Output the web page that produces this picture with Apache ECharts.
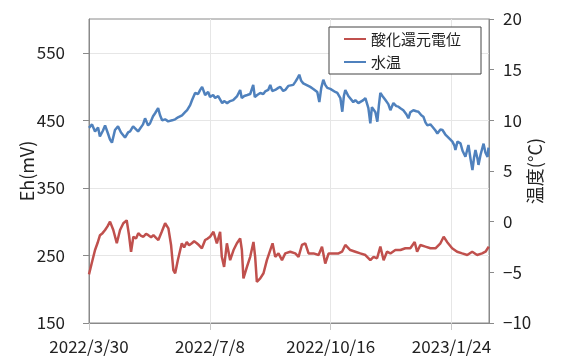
<!DOCTYPE html>
<html><head><meta charset="utf-8">
<script src="https://cdn.jsdelivr.net/npm/echarts@6/dist/echarts.min.js"></script>
<style>html,body{margin:0;padding:0;background:#fff}#c{width:563px;height:359px}</style>
</head><body><div id="c"></div>
<script>
// x = days since 2022/3/30
const xTickDays = [0, 100, 200, 300];
const xTickLabels = ['2022/3/30', '2022/7/8', '2022/10/16', '2023/1/24'];
const ehTicks = [150, 250, 350, 450, 550];
const tempTicks = [-10, -5, 0, 5, 10, 15, 20];
const seriesNames = ['酸化還元電位', '水温'];

// 酸化還元電位 (mV): [day, value]
const ehPoints = [
 [0,222],[2.2,238],[5,258],[7,268],[9.1,280],[11.2,283],[13.3,287.6],[15.3,293],[17.4,300],[20.1,287.6],
 [23,268],[25.7,287.6],[28.4,297.6],[31.2,302],[33.1,280],[34.8,255.5],[36.7,277.7],[38.9,275],[40.8,282.8],[43.1,279],
 [45,277.7],[47.2,282],[49.1,280],[51.4,277],[53.3,280],[55.5,276],[57.4,272.8],[60.2,285],[63,297.6],[65.7,290],
 [67.9,265.5],[69.8,228.4],[71.3,223.6],[73.5,243],[76.8,268],[78.7,262],[80.9,270],[82.8,265],[85.1,268],[87,271],
 [89.2,268],[91.1,265],[93.4,260.6],[96.1,272.8],[98.2,275],[100.2,277.7],[103,285],[105.8,268],[108.5,285],[109.9,248],
 [111.8,233],[114.1,268],[116.8,243],[119.6,258],[122.4,268],[125.1,275],[126.5,258],[127.8,216],[130.7,233],[133.4,248],
 [136.1,270],[137.5,248],[138.9,211],[141.7,216],[144.4,223.6],[147.2,243],[150,258],[151.9,268],[154.1,248],[156.8,253],
 [159.7,243],[162.4,253],[166.5,255.5],[170.7,253],[173.4,248],[176.2,265.5],[179,268],[181.7,253],[185.8,253],[190,250.6],
 [192.8,263],[195.5,238],[198.3,253],[202.4,253],[206.5,253],[209.4,255.5],[212.1,265.5],[216.2,258],[220.4,255.5],[224.5,253],
 [228.7,250.6],[232.8,243],[235.5,248],[238.4,245.8],[241.1,263],[243.8,243],[246.6,255.5],[249.4,253],[253.5,258],[257.7,258],
 [261.8,260.6],[265.9,260.6],[269.5,270],[271.5,255.5],[274.2,265.5],[278.4,263],[282.5,260.6],[286.7,260.6],[290.8,268],[293.5,277.7],
 [296.3,270],[300.5,260.6],[304.6,255.5],[308.8,253],[313,250.6],[317.1,255.5],[321.2,250.6],[325.3,253],[328.1,255.5],[330.8,263]
];

// 水温 (°C): [day, value]
const tempPoints = [
 [0,9.25],[2.5,9.6],[5,8.9],[7.5,9.3],[9,8.4],[11.6,9.0],[13.3,9.5],[15.7,8.7],[17.4,8.1],[19,7.8],
 [21.5,9.05],[24,9.4],[26.5,8.8],[29.8,8.3],[32.3,8.8],[34,8.9],[36.5,9.4],[38,9.5],[40.6,8.9],[42.3,9.2],
 [44.7,9.6],[46.4,10.2],[48.9,9.5],[50.5,9.7],[53,10.4],[54.7,10.7],[57.2,11.2],[58.8,10.5],[60.5,10.0],[63,10.1],
 [65.5,9.9],[68.8,10.0],[71.3,10.1],[73.7,10.3],[77,10.5],[79.5,10.8],[81.2,11.0],[83.7,11.5],[85.3,12.0],[87.8,12.7],
 [90.3,12.6],[92,13.0],[93.6,13.3],[96.1,12.5],[98.6,12.8],[100.2,12.3],[102.7,12.5],[104.4,12.2],[106.9,12.4],[110.2,11.7],
 [111.8,11.9],[114.3,11.7],[116.8,11.9],[119.3,12.0],[122.6,12.4],[125.1,13.0],[126.4,12.2],[128.5,12.4],[131,12.5],[133.4,12.6],
 [135.9,13.5],[137.2,12.3],[139.2,12.5],[141.7,12.7],[144.2,12.6],[145.8,12.85],[148.3,13.0],[150,13.5],[151.6,12.9],[154.1,13.0],
 [156.6,13.2],[158.3,13.3],[160.7,12.9],[162.4,13.0],[164.9,13.4],[166.5,13.3],[169,13.5],[170.7,13.8],[172.3,14.1],[174,14.5],
 [175.6,13.9],[177.3,13.65],[179.8,13.5],[183.1,13.3],[185.6,13.1],[187.2,13.0],[188.9,12.8],[190.6,11.8],[192.2,13.2],[193.9,14.0],
 [195.5,13.5],[197.2,13.2],[199.7,13.1],[201.3,13.0],[203.8,12.8],[205.5,12.7],[208,12.2],[209.6,10.85],[210.9,12.4],[212.1,13.0],
 [214.6,12.4],[216.2,12.3],[218.7,11.8],[220.4,12.0],[222.9,11.7],[224.5,11.85],[227,12.0],[228.7,12.2],[231.2,11.2],[232.8,9.7],
 [234.1,11.3],[235.3,11.35],[237,10.8],[238.6,9.87],[239.9,11.5],[241.1,12.7],[242.8,12.4],[245.3,12.0],[247.7,11.6],[249.4,11.0],
 [251.9,11.7],[254.3,11.4],[256,11.35],[257.7,11.2],[260.1,11.0],[262.6,10.6],[264.3,10.2],[265.9,10.8],[268.4,11.0],[270.9,10.9],
 [272.6,10.85],[275,10.5],[276.7,10.36],[278.4,9.8],[280,9.5],[282.5,9.6],[284.2,9.37],[286.7,9.0],[288.3,8.7],[290.8,9.1],
 [292.5,9.05],[294.9,8.6],[296.6,8.4],[299.1,8.1],[300.7,7.9],[302.4,7.5],[303.2,7.07],[304.9,7.9],[307.4,7.73],[309.1,7.0],
 [311.5,6.4],[313.2,7.2],[314,7.57],[315.7,6.2],[317.3,5.1],[318.6,6.3],[319.8,7.07],[321.5,6.2],[322.3,5.6],[324,6.6],
 [326.5,7.7],[328.1,6.8],[329.8,6.4],[330.6,7.3]
];

const FONT = '"Noto Sans CJK JP", "Noto Sans", sans-serif';
const axisGray = '#8a8a8a';
const gridGray = '#e6e6e6';
const txt = '#222';

const chart = echarts.init(document.getElementById('c'));
chart.setOption({
  animation: false,
  textStyle: { fontFamily: FONT },
  grid: { left: 89, right: 74, top: 19, bottom: 36, show: true, borderColor: axisGray, borderWidth: 1 },
  legend: {
    orient: 'vertical', left: 329, top: 27,
    data: seriesNames,
    icon: 'rect', itemWidth: 22, itemHeight: 2, itemGap: 5,
    padding: [3, 20, 3, 15],
    borderColor: '#444', borderWidth: 1, backgroundColor: '#fff',
    textStyle: { fontSize: 15, color: txt, lineHeight: 18, fontFamily: FONT }
  },
  xAxis: {
    type: 'value', min: 0, max: 331, interval: 100,
    axisLine: { show: true, onZero: false, lineStyle: { color: axisGray } },
    axisTick: { show: true, length: 7, lineStyle: { color: '#c8c8c8' } },
    axisLabel: {
      showMaxLabel: false, fontSize: 17, color: txt, margin: 15, fontFamily: FONT,
      formatter: v => { const i = xTickDays.indexOf(v); return i >= 0 ? xTickLabels[i] : ''; }
    },
    splitLine: { show: true, lineStyle: { color: gridGray } }
  },
  yAxis: [
    {
      type: 'value', min: 150, max: 600, position: 'left',
      name: 'Eh(mV)', nameLocation: 'middle', nameRotate: 90, nameGap: 53, nameMoveOverlap: false,
      nameTextStyle: { fontSize: 18, color: txt, fontFamily: FONT },
      axisLine: { show: true, onZero: false, lineStyle: { color: axisGray } },
      axisTick: { show: true, length: 6, customValues: ehTicks, lineStyle: { color: axisGray } },
      axisLabel: { customValues: ehTicks, fontSize: 17, color: txt, margin: 24, fontFamily: FONT },
      splitLine: { show: true, lineStyle: { color: gridGray } }
    },
    {
      type: 'value', min: -10, max: 20, interval: 5, position: 'right',
      name: '温度(°C)', nameLocation: 'middle', nameRotate: 90, nameGap: 37, nameMoveOverlap: false,
      nameTextStyle: { fontSize: 18, color: txt, fontFamily: FONT },
      axisLine: { show: true, onZero: false, lineStyle: { color: axisGray } },
      axisTick: { show: true, length: 5, lineStyle: { color: axisGray } },
      axisLabel: {
        fontSize: 17, color: txt, margin: 14, fontFamily: FONT,
        formatter: v => { const i = tempTicks.indexOf(v); return i >= 0 ? String(tempTicks[i]).replace('-', '\u2212') : ''; }
      },
      splitLine: { show: false }
    }
  ],
  series: [
    {
      name: seriesNames[0], type: 'line', yAxisIndex: 0, data: ehPoints,
      showSymbol: false, lineStyle: { color: '#C0504D', width: 2.5 }, itemStyle: { color: '#C0504D' }, z: 3
    },
    {
      name: seriesNames[1], type: 'line', yAxisIndex: 1, data: tempPoints,
      showSymbol: false, lineStyle: { color: '#4F81BD', width: 2.5 }, itemStyle: { color: '#4F81BD' }, z: 3
    }
  ]
});
</script></body></html>
